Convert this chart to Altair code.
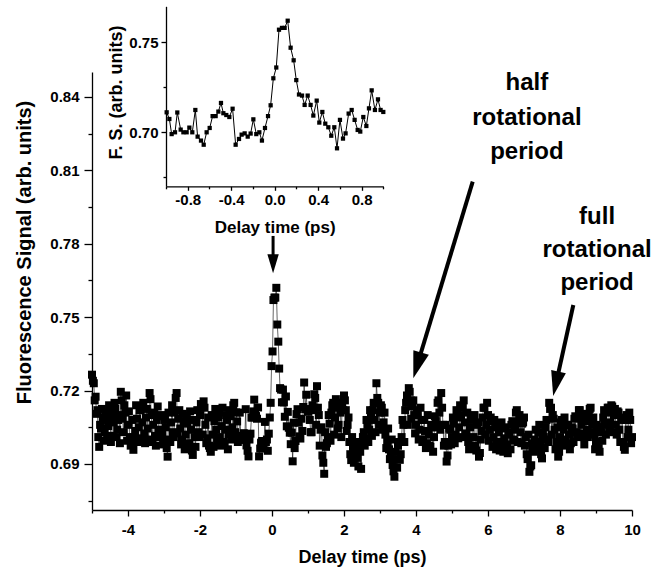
import altair as alt
import pandas as pd

FONT = "Liberation Sans"

# ---------------- inset (zoomed) scan, -1 .. 1 ps ----------------
inset_x = [-0.994, -0.969, -0.948, -0.917, -0.896, -0.865, -0.840, -0.810, -0.785, -0.758,
           -0.730, -0.709, -0.678, -0.653, -0.626, -0.598, -0.571, -0.543, -0.518, -0.494,
           -0.472, -0.445, -0.417, -0.387, -0.359, -0.328, -0.304, -0.276, -0.248, -0.221,
           -0.196, -0.169, -0.141, -0.117, -0.089, -0.061, -0.037, -0.012, 0.015, 0.040,
           0.067, 0.092, 0.120, 0.147, 0.175, 0.199, 0.224, 0.252, 0.276, 0.304,
           0.331, 0.356, 0.387, 0.411, 0.439, 0.466, 0.494, 0.521, 0.549, 0.574,
           0.601, 0.629, 0.653, 0.681, 0.709, 0.736, 0.764, 0.788, 0.816, 0.844,
           0.868, 0.893, 0.923, 0.951, 0.975, 1.000]
inset_y = [0.7111, 0.7074, 0.6990, 0.7000, 0.7110, 0.7015, 0.7000, 0.7000, 0.7026, 0.7000,
           0.7124, 0.6976, 0.6954, 0.6931, 0.7000, 0.7024, 0.7090, 0.7090, 0.7115, 0.7163,
           0.7106, 0.7096, 0.7085, 0.7131, 0.6931, 0.6963, 0.6987, 0.6994, 0.6976, 0.6993,
           0.7072, 0.6990, 0.7000, 0.6954, 0.7024, 0.7090, 0.7150, 0.7300, 0.7360, 0.7570,
           0.7580, 0.7580, 0.7620, 0.7470, 0.7400, 0.7290, 0.7210, 0.7204, 0.7152, 0.7204,
           0.7152, 0.7093, 0.7176, 0.7054, 0.7113, 0.7048, 0.7028, 0.6981, 0.7028, 0.6911,
           0.7069, 0.6965, 0.6994, 0.7104, 0.7124, 0.7069, 0.7013, 0.7004, 0.7085, 0.7035,
           0.7133, 0.7233, 0.7124, 0.7183, 0.7124, 0.7113]

# ---------------- full scan outside the zoom window (0.025 ps sampling) ----------------
step = 0.05
# samples on the 0.05 grid
left_start_a = -5.0
left_y_a = [0.7265, 0.7230, 0.7175, 0.7120, 0.6970, 0.7045, 0.7090, 0.7030, 0.7080, 0.7055,
            0.7110, 0.7015, 0.7070, 0.7125, 0.7040, 0.7100, 0.7195, 0.7085, 0.7140, 0.7180,
            0.7060, 0.7010, 0.6990, 0.6958, 0.7035, 0.7085, 0.7050, 0.7120, 0.7070, 0.7025,
            0.7090, 0.7045, 0.7190, 0.7100, 0.7060, 0.7015, 0.7080, 0.7040, 0.7095, 0.7020,
            0.6995, 0.7050, 0.6930, 0.7000, 0.7070, 0.7030, 0.7110, 0.7190, 0.7085, 0.7045,
            0.7000, 0.7075, 0.7020, 0.7065, 0.6985, 0.7040, 0.6937, 0.7010, 0.7070, 0.7030,
            0.7100, 0.7140, 0.7156, 0.7060, 0.7005, 0.6975, 0.6950, 0.7020, 0.7075, 0.7040,
            0.7090, 0.7010, 0.7055, 0.6990, 0.7040, 0.7080, 0.7020, 0.7095, 0.7050, 0.7150]
# samples half-way between
left_start_b = -4.975
left_y_b = [0.7240, 0.7160, 0.7105, 0.7010, 0.7060, 0.7125, 0.6995, 0.7110, 0.7000, 0.7140,
            0.6990, 0.7100, 0.7150, 0.7010, 0.7080, 0.6985, 0.7160, 0.7030, 0.7110, 0.6995,
            0.7115, 0.6975, 0.7080, 0.7010, 0.7140, 0.6990, 0.7120, 0.7005, 0.7150, 0.6985,
            0.7125, 0.7000, 0.7165, 0.6990, 0.7110, 0.6975, 0.7135, 0.7010, 0.7100, 0.6980,
            0.7080, 0.6965, 0.7110, 0.6990, 0.7140, 0.7010, 0.7170, 0.7025, 0.7120, 0.6980,
            0.7105, 0.6960, 0.7095, 0.6975, 0.7115, 0.6955, 0.7080, 0.6970, 0.7120, 0.7010,
            0.7145, 0.7020, 0.7130, 0.6985, 0.7090, 0.6965, 0.7100, 0.6970, 0.7125, 0.6990,
            0.7110, 0.6975, 0.7130, 0.6985, 0.7100, 0.6960, 0.7120, 0.7000, 0.7140, 0.7030]
right_start_a = 1.05
right_y_a = [0.7080, 0.7030, 0.7120, 0.7170, 0.7218, 0.7100, 0.7040, 0.6935, 0.6860, 0.6970,
             0.7010, 0.7065, 0.7110, 0.7150, 0.7090, 0.7130, 0.7060, 0.7110, 0.7150, 0.7180,
             0.7120, 0.7060, 0.6990, 0.6916, 0.6960, 0.6935, 0.6990, 0.6890, 0.6950, 0.6990,
             0.7030, 0.7005, 0.7060, 0.7040, 0.7090, 0.7120, 0.7080, 0.7230, 0.7150, 0.7110,
             0.7130, 0.7070, 0.7020, 0.6990, 0.6960, 0.6930, 0.6896, 0.6848, 0.6920, 0.6975,
             0.6917, 0.7010, 0.7060, 0.7120, 0.7180, 0.7210, 0.7160, 0.7135, 0.7100, 0.7060,
             0.7110, 0.7040, 0.7080, 0.7000, 0.7035, 0.6985, 0.7020, 0.6970, 0.7050, 0.7010,
             0.7075, 0.7150, 0.7110, 0.7190, 0.7060, 0.6990, 0.6910, 0.6975, 0.7040, 0.7010,
             0.7065, 0.7020, 0.7090, 0.7050, 0.7100, 0.7130, 0.7070, 0.7020, 0.6990, 0.7050,
             0.7085, 0.7010, 0.6975, 0.7060, 0.6930, 0.7000, 0.7090, 0.7130, 0.7060, 0.7100,
             0.7040, 0.7075, 0.7010, 0.7050, 0.6990, 0.7030, 0.6975, 0.7045, 0.7005, 0.6980,
             0.6944, 0.7020, 0.7060, 0.7000, 0.7040, 0.7120, 0.7070, 0.7030, 0.7065, 0.7090,
             0.7010, 0.6920, 0.6868, 0.6895, 0.6960, 0.7000, 0.6975, 0.7030, 0.6990, 0.6923,
             0.7010, 0.7050, 0.7000, 0.7150, 0.7130, 0.7100, 0.7040, 0.6990, 0.6930, 0.7010,
             0.7080, 0.7040, 0.7000, 0.7060, 0.7020, 0.6985, 0.7045, 0.7085, 0.7030, 0.7090,
             0.7120, 0.7060, 0.7010, 0.7075, 0.7040, 0.7100, 0.7130, 0.7060, 0.7020, 0.6990,
             0.7050, 0.6950, 0.7030, 0.7090, 0.7060, 0.7110, 0.7130, 0.7070, 0.7135, 0.7100,
             0.7060, 0.7115, 0.7040, 0.7080, 0.6990, 0.6958, 0.7100, 0.7040, 0.7080, 0.7010]
right_start_b = 1.075
right_y_b = [0.7030, 0.7140, 0.7185, 0.7060, 0.7130, 0.6975, 0.7050, 0.6905, 0.7030, 0.6985,
             0.7100, 0.6995, 0.7140, 0.7020, 0.7165, 0.7045, 0.7150, 0.7010, 0.7120, 0.7160,
             0.7035, 0.7090, 0.6940, 0.7010, 0.6905, 0.6985, 0.6925, 0.6970, 0.6880, 0.7010,
             0.6975, 0.7080, 0.6990, 0.7120, 0.7015, 0.7150, 0.7030, 0.7170, 0.7060, 0.7140,
             0.7040, 0.7110, 0.6965, 0.7045, 0.6920, 0.7000, 0.6870, 0.6950, 0.6885, 0.6990,
             0.6940, 0.7080, 0.6990, 0.7150, 0.7060, 0.7195, 0.7085, 0.7160, 0.7025, 0.7120,
             0.7000, 0.7130, 0.6990, 0.7080, 0.6965, 0.7100, 0.6975, 0.7060, 0.6950, 0.7095,
             0.7050, 0.7160, 0.7040, 0.7130, 0.6975, 0.7060, 0.6935, 0.7045, 0.6980, 0.7090,
             0.6985, 0.7120, 0.7005, 0.7140, 0.7010, 0.7160, 0.7025, 0.7110, 0.6960, 0.7080,
             0.6970, 0.7100, 0.6955, 0.7070, 0.6945, 0.7035, 0.7130, 0.7020, 0.7150, 0.6995,
             0.7090, 0.6970, 0.7080, 0.6960, 0.7060, 0.6955, 0.7070, 0.6950, 0.7050, 0.6965,
             0.7030, 0.6960, 0.7075, 0.6995, 0.7110, 0.6990, 0.7100, 0.6985, 0.7070, 0.6975,
             0.6940, 0.7020, 0.6890, 0.6985, 0.6950, 0.7040, 0.6965, 0.7060, 0.6940, 0.7020,
             0.6965, 0.7080, 0.6990, 0.7125, 0.7020, 0.7085, 0.6960, 0.7050, 0.6950, 0.7070,
             0.6980, 0.7090, 0.6975, 0.7060, 0.6960, 0.7050, 0.6990, 0.7095, 0.7010, 0.7120,
             0.7025, 0.7105, 0.6980, 0.7080, 0.7010, 0.7125, 0.7030, 0.7090, 0.6960, 0.7060,
             0.6965, 0.7050, 0.6995, 0.7120, 0.7020, 0.7130, 0.7040, 0.7140, 0.7030, 0.7125,
             0.7020, 0.7110, 0.6990, 0.7090, 0.6970, 0.7080, 0.7010, 0.7110, 0.6985]


def grid(start, n):
    return [round(start + i * step, 3) for i in range(n)]


main_x = (grid(left_start_a, len(left_y_a)) + grid(left_start_b, len(left_y_b)) + inset_x
          + grid(right_start_a, len(right_y_a)) + grid(right_start_b, len(right_y_b)))
main_y = left_y_a + left_y_b + inset_y + right_y_a + right_y_b
main_df = pd.DataFrame({"x": main_x, "y": main_y}).sort_values("x").reset_index(drop=True)
main_df["order"] = range(len(main_df))
inset_df = pd.DataFrame({"x": inset_x, "y": inset_y})

# annotations (data coordinates of the main panel)
ann_text = ["half", "rotational", "period", "full", "rotational", "period"]
ann_x = [7.08, 7.08, 7.08, 9.03, 9.03, 9.03]
ann_y = [0.8428, 0.8285, 0.8146, 0.7881, 0.7746, 0.7611]

# arrows: start, shaft end, tip
arrow_x0 = [0.03, 5.575, 8.37]
arrow_y0 = [0.7832, 0.8054, 0.7550]
arrow_x1 = [0.03, 4.044, 7.897]
arrow_y1 = [0.7721, 0.7309, 0.7234]
arrow_tx = [0.03, 3.925, 7.81]
arrow_ty = [0.7680, 0.7250, 0.7178]
arrow_angle = [180, 196.8, 192.4]
arrow_head = [1444, 2916, 2500]
arrow_w = [3, 4, 4]

X_MAIN = alt.Scale(domain=[-5, 10], nice=False, zero=False)
Y_MAIN = alt.Scale(domain=[0.6712, 0.8502], nice=False, zero=False)
X_IN = alt.Scale(domain=[-1, 1], range=[74, 291.3], nice=False, zero=False)
Y_IN = alt.Scale(domain=[0.67, 0.77], range=[114.3, -65.7], nice=False, zero=False)

common = dict(grid=False, domainColor="black", domainWidth=1.3, tickColor="black",
              tickWidth=1.3, labelFont=FONT, labelFontWeight="bold", labelColor="black",
              titleFont=FONT, titleFontWeight="bold", titleColor="black",
              labelOverlap=False, labelFlush=False)

# --- main axes (major) ---
x_main_axis = alt.Axis(orient="bottom", values=[-4, -2, 0, 2, 4, 6, 8, 10],
                       labelExpr="datum.value + ''", tickSize=6, labelFontSize=15,
                       labelPadding=6, title="Delay time (ps)", titleFontSize=18,
                       titleY=52, titleBaseline="alphabetic", **common)
y_main_axis = alt.Axis(orient="left", values=[0.69, 0.72, 0.75, 0.78, 0.81, 0.84],
                       format=".2f", tickSize=8, labelFontSize=15, labelPadding=5,
                       title="Fluorescence Signal (arb. units)", titleFontSize=20,
                       titleX=-68, titleY=180, titleAlign="center", titleBaseline="middle",
                       titleAngle=-90, **common)
# --- main axes (minor ticks) ---
x_main_minor = alt.Axis(orient="bottom", values=[-5, -3, -1, 1, 3, 5, 7, 9], tickSize=3,
                        labels=False, domain=False, title=None, grid=False,
                        tickColor="black", tickWidth=1.3)
y_main_minor = alt.Axis(orient="left",
                        values=[0.675, 0.705, 0.735, 0.765, 0.795, 0.825], tickSize=4,
                        labels=False, domain=False, title=None, grid=False,
                        tickColor="black", tickWidth=1.3)

main_line = alt.Chart(main_df).mark_line(color="black", strokeWidth=0.6).encode(
    x=alt.X("x:Q", scale=X_MAIN, axis=x_main_axis),
    y=alt.Y("y:Q", scale=Y_MAIN, axis=y_main_axis),
    order="order:Q")
main_pts = alt.Chart(main_df).mark_square(color="black", size=64, opacity=1).encode(
    x=alt.X("x:Q", scale=X_MAIN, axis=x_main_minor),
    y=alt.Y("y:Q", scale=Y_MAIN, axis=y_main_minor))

ann_df = pd.DataFrame({"t": ann_text, "x": ann_x, "y": ann_y})
ann = alt.Chart(ann_df).mark_text(font=FONT, fontSize=24, fontWeight="bold", color="black",
                                  align="center", baseline="alphabetic").encode(
    x=alt.X("x:Q", scale=X_MAIN, axis=None),
    y=alt.Y("y:Q", scale=Y_MAIN, axis=None),
    text="t:N")

arrow_layers = []
for i in range(len(arrow_x0)):
    d = pd.DataFrame({"x0": [arrow_x0[i]], "y0": [arrow_y0[i]], "x1": [arrow_x1[i]],
                      "y1": [arrow_y1[i]], "tx": [arrow_tx[i]], "ty": [arrow_ty[i]]})
    shaft = alt.Chart(d).mark_rule(color="black", strokeWidth=arrow_w[i]).encode(
        x=alt.X("x0:Q", scale=X_MAIN, axis=None),
        y=alt.Y("y0:Q", scale=Y_MAIN, axis=None),
        x2="x1:Q", y2="y1:Q")
    head = alt.Chart(d).mark_point(shape="M0,0 L-0.3,1 L0.3,1 Z", filled=True, color="black",
                                   opacity=1, strokeWidth=0, size=arrow_head[i],
                                   angle=arrow_angle[i]).encode(
        x=alt.X("tx:Q", scale=X_MAIN, axis=None),
        y=alt.Y("ty:Q", scale=Y_MAIN, axis=None))
    arrow_layers += [shaft, head]

# --- inset axes ---
x_in_axis = alt.Axis(orient="bottom", offset=-323.7, values=[-0.8, -0.4, 0.0, 0.4, 0.8],
                     labelExpr="replace(format(datum.value, '.1f'), '\u2212', '-')",
                     tickSize=4, labelFontSize=15, labelPadding=2,
                     title="Delay time (ps)", titleFontSize=17, titleY=46,
                     titleBaseline="alphabetic", **common)
y_in_axis = alt.Axis(orient="left", offset=-74, values=[0.70, 0.75], format=".2f",
                     tickSize=5, labelFontSize=15, labelPadding=3,
                     title="F. S. (arb. units)", titleFontSize=18,
                     titleX=-50, titleY=20, titleAlign="center", titleBaseline="middle",
                     titleAngle=-90, **common)
x_in_minor = alt.Axis(orient="bottom", offset=-323.7, values=[-1.0, -0.6, -0.2, 0.2, 0.6, 1.0],
                      tickSize=2.5, labels=False, domain=False, title=None, grid=False,
                      tickColor="black", tickWidth=1.3)
y_in_minor = alt.Axis(orient="left", offset=-74, values=[0.675, 0.725], tickSize=3,
                      labels=False, domain=False, title=None, grid=False,
                      tickColor="black", tickWidth=1.3)

inset_line = alt.Chart(inset_df).mark_line(color="black", strokeWidth=1).encode(
    x=alt.X("x:Q", scale=X_IN, axis=x_in_axis),
    y=alt.Y("y:Q", scale=Y_IN, axis=y_in_axis))
inset_pts = alt.Chart(inset_df).mark_square(color="black", size=18, opacity=1).encode(
    x=alt.X("x:Q", scale=X_IN, axis=x_in_minor),
    y=alt.Y("y:Q", scale=Y_IN, axis=y_in_minor))

chart = alt.layer(main_line, main_pts, ann, *arrow_layers, inset_line, inset_pts).resolve_scale(
    x="independent", y="independent"
).properties(
    width=540, height=438,
    autosize=alt.AutoSizeParams(type="none"),
    padding={"left": 92, "top": 72, "right": 40, "bottom": 66},
    background="white",
).configure_view(strokeWidth=0)

chart.save("out.html", embed_options={"renderer": "svg", "actions": False})
